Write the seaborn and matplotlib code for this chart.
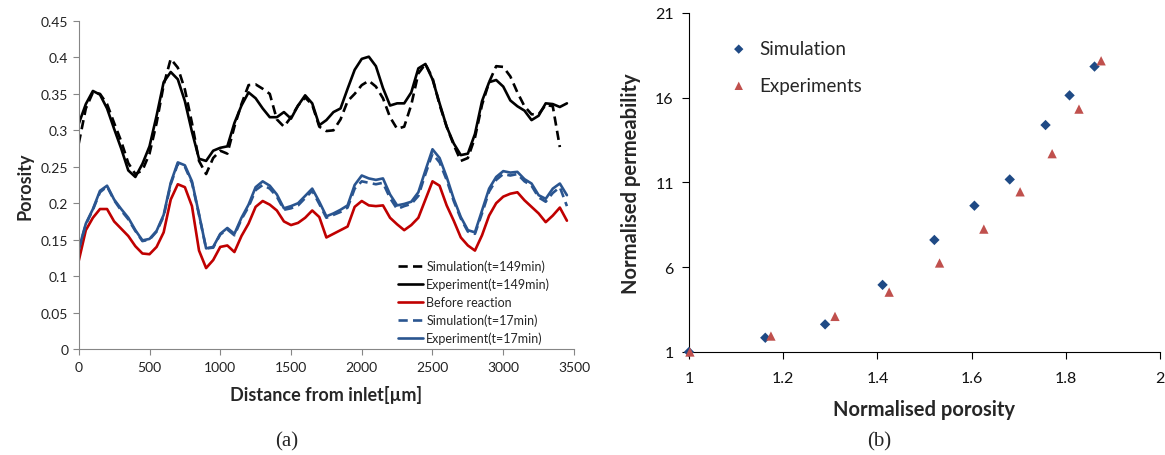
import numpy as np
import pandas as pd
import matplotlib
matplotlib.use('Agg')
import matplotlib.pyplot as plt
from matplotlib.ticker import FuncFormatter
import seaborn as sns

# (a) porosity profiles, sampled every 50 um from the inlet
distance = np.arange(0, 3500, 50)

sim_149 = [0.282, 0.330, 0.352, 0.350, 0.336, 0.310, 0.285, 0.255, 0.240, 0.245,
           0.268, 0.310, 0.362, 0.398, 0.386, 0.356, 0.310, 0.258, 0.240, 0.262,
           0.272, 0.268, 0.305, 0.336, 0.362, 0.363, 0.357, 0.350, 0.315, 0.305,
           0.318, 0.334, 0.345, 0.335, 0.305, 0.299, 0.300, 0.315, 0.340, 0.350,
           0.362, 0.368, 0.360, 0.344, 0.318, 0.302, 0.305, 0.335, 0.378, 0.391,
           0.372, 0.335, 0.305, 0.280, 0.258, 0.262, 0.290, 0.335, 0.366, 0.388,
           0.387, 0.374, 0.352, 0.333, 0.322, 0.322, 0.335, 0.333, 0.277, np.nan]
exp_149 = [0.309, 0.336, 0.354, 0.349, 0.330, 0.302, 0.275, 0.245, 0.236, 0.254,
           0.278, 0.320, 0.366, 0.380, 0.370, 0.340, 0.298, 0.261, 0.258, 0.272,
           0.276, 0.278, 0.310, 0.334, 0.352, 0.344, 0.330, 0.318, 0.318, 0.325,
           0.316, 0.334, 0.348, 0.337, 0.307, 0.314, 0.325, 0.330, 0.357, 0.383,
           0.398, 0.401, 0.388, 0.358, 0.334, 0.337, 0.337, 0.352, 0.385, 0.391,
           0.370, 0.337, 0.305, 0.282, 0.266, 0.268, 0.295, 0.340, 0.366, 0.369,
           0.360, 0.341, 0.333, 0.327, 0.314, 0.320, 0.337, 0.336, 0.332, 0.337]
before = [0.121, 0.163, 0.180, 0.192, 0.192, 0.175, 0.165, 0.155, 0.141, 0.131,
          0.130, 0.140, 0.160, 0.205, 0.226, 0.222, 0.196, 0.135, 0.111, 0.122,
          0.140, 0.142, 0.133, 0.155, 0.172, 0.195, 0.203, 0.198, 0.190, 0.175,
          0.170, 0.173, 0.180, 0.190, 0.181, 0.153, 0.158, 0.163, 0.168, 0.195,
          0.203, 0.197, 0.196, 0.197, 0.180, 0.171, 0.163, 0.170, 0.180, 0.205,
          0.230, 0.224, 0.197, 0.176, 0.153, 0.142, 0.135, 0.156, 0.183, 0.200,
          0.209, 0.213, 0.215, 0.204, 0.195, 0.186, 0.174, 0.183, 0.194, 0.176]
sim_17 = [0.136, 0.171, 0.191, 0.215, 0.223, 0.204, 0.190, 0.178, 0.162, 0.148,
          0.150, 0.161, 0.182, 0.226, 0.254, 0.250, 0.228, 0.184, 0.138, 0.139,
          0.157, 0.164, 0.156, 0.178, 0.195, 0.218, 0.225, 0.220, 0.209, 0.191,
          0.193, 0.197, 0.207, 0.217, 0.199, 0.180, 0.184, 0.188, 0.194, 0.220,
          0.230, 0.228, 0.226, 0.228, 0.207, 0.192, 0.196, 0.199, 0.210, 0.240,
          0.268, 0.256, 0.232, 0.203, 0.179, 0.161, 0.158, 0.186, 0.216, 0.232,
          0.240, 0.238, 0.240, 0.230, 0.224, 0.208, 0.202, 0.214, 0.222, 0.196]
exp_17 = [0.137, 0.172, 0.192, 0.217, 0.224, 0.205, 0.192, 0.180, 0.163, 0.149,
          0.151, 0.162, 0.184, 0.228, 0.256, 0.252, 0.230, 0.185, 0.138, 0.140,
          0.158, 0.166, 0.158, 0.180, 0.198, 0.222, 0.230, 0.224, 0.212, 0.193,
          0.196, 0.200, 0.210, 0.220, 0.202, 0.182, 0.186, 0.191, 0.197, 0.225,
          0.238, 0.234, 0.232, 0.234, 0.212, 0.197, 0.199, 0.202, 0.215, 0.245,
          0.274, 0.262, 0.236, 0.206, 0.181, 0.163, 0.160, 0.190, 0.220, 0.236,
          0.244, 0.242, 0.243, 0.233, 0.227, 0.211, 0.206, 0.220, 0.227, 0.211]

# (b) normalised permeability vs normalised porosity
sim_porosity = [1.0, 1.162, 1.289, 1.411, 1.521, 1.606, 1.681, 1.757, 1.808, 1.861]
sim_perm = [1.0, 1.84, 2.63, 4.96, 7.61, 9.63, 11.18, 14.39, 16.14, 17.84]
exp_porosity = [1.002, 1.174, 1.310, 1.425, 1.532, 1.626, 1.703, 1.771, 1.828, 1.875]
exp_perm = [1.0, 1.94, 3.10, 4.53, 6.25, 8.25, 10.45, 12.70, 15.33, 18.18]

sns.set_style('ticks')
plt.rcParams['font.family'] = ['Lato', 'DejaVu Sans']

fig = plt.figure(figsize=(11.65, 4.56), dpi=100)
ax1 = fig.add_axes([0.0676, 0.2325, 0.4251, 0.7193])
ax2 = fig.add_axes([0.5914, 0.2259, 0.4043, 0.7434])

black = '#000000'
red = '#C00000'
blue = '#2A5590'
dash = (0, (3.5, 2))

series = [
    ('Simulation(t=149min)', sim_149, black, dash),
    ('Experiment(t=149min)', exp_149, black, '-'),
    ('Before reaction', before, red, '-'),
    ('Simulation(t=17min)', sim_17, blue, dash),
    ('Experiment(t=17min)', exp_17, blue, '-'),
]
for name, vals, col, ls in series:
    df = pd.DataFrame({'distance': distance, 'porosity': vals})
    sns.lineplot(data=df, x='distance', y='porosity', ax=ax1, color=col,
                 linestyle=ls, linewidth=1.9, label=name)

ax1.set_xlim(0, 3500)
ax1.set_ylim(0, 0.45)
ax1.set_xticks(np.arange(0, 3501, 500))
ax1.set_yticks(np.arange(0, 0.451, 0.05))
ax1.yaxis.set_major_formatter(FuncFormatter(lambda v, p: f'{v:g}'))
ax1.tick_params(labelsize=10, length=4, color='#868686', labelcolor='#222222')
ax1.tick_params(axis='x', pad=5)
for s in ['left', 'bottom']:
    ax1.spines[s].set_color('#868686')
for s in ['top', 'right']:
    ax1.spines[s].set_visible(False)
ax1.set_xlabel('Distance from inlet[µm]', fontsize=13, fontweight='bold', labelpad=8)
ax1.set_ylabel('Porosity', fontsize=13, fontweight='bold', labelpad=5)
ax1.legend(loc='lower right', bbox_to_anchor=(0.975, -0.02), frameon=False,
           fontsize=9, handlelength=2.0, handletextpad=0.3, labelspacing=0.45)

sns.scatterplot(x=sim_porosity, y=sim_perm, ax=ax2, marker='D', color='#1F4A85',
                s=28, edgecolor='none', label='Simulation', clip_on=False, zorder=3)
sns.scatterplot(x=exp_porosity, y=exp_perm, ax=ax2, marker='^', color='#C0504D',
                s=45, edgecolor='none', label='Experiments', clip_on=False, zorder=3)
ax2.set_xlim(1, 2)
ax2.set_ylim(1, 21)
ax2.set_xticks(np.arange(1, 2.01, 0.2))
ax2.set_yticks([1, 6, 11, 16, 21])
ax2.xaxis.set_major_formatter(FuncFormatter(lambda v, p: f'{v:g}'))
ax2.tick_params(labelsize=11.5, length=5, color='black', labelcolor='#111111', pad=6)
ax2.tick_params(axis='x', pad=9)
for s in ['top', 'right']:
    ax2.spines[s].set_visible(False)
for s in ['left', 'bottom']:
    ax2.spines[s].set_color('black')
ax2.set_xlabel('Normalised porosity', fontsize=14.5, fontweight='bold', labelpad=10)
ax2.set_ylabel('Normalised permeability', fontsize=14.5, fontweight='bold', labelpad=10)
ax2.legend(loc='upper left', bbox_to_anchor=(0.03, 0.97), frameon=False,
           fontsize=13.5, handletextpad=0.1, labelspacing=1.05, markerscale=0.9)

fig.text(0.246, 0.02, '(a)', family='Liberation Serif', fontsize=15, ha='center')
fig.text(0.755, 0.02, '(b)', family='Liberation Serif', fontsize=15, ha='center')

fig.savefig('out.png', dpi=100)
